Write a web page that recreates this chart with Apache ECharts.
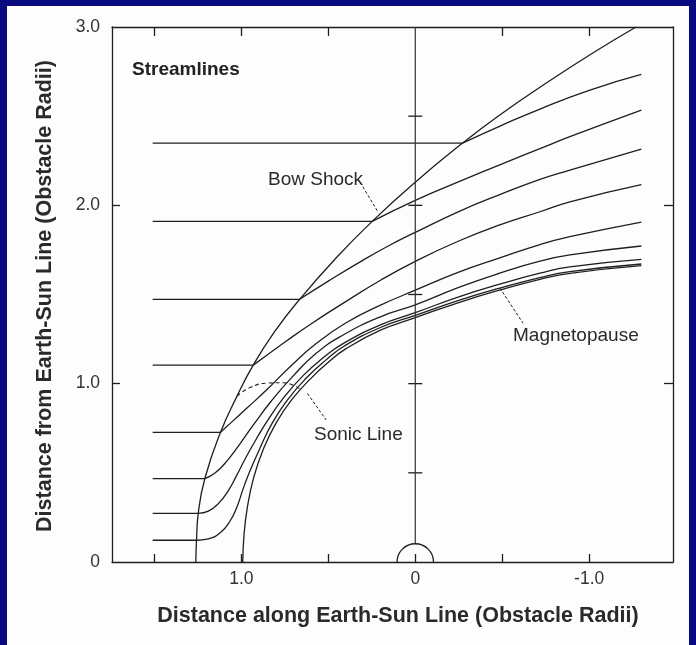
<!DOCTYPE html>
<html><head><meta charset="utf-8">
<script src="https://cdn.jsdelivr.net/npm/echarts@6/dist/echarts.min.js"></script>
<style>
html,body{margin:0;padding:0;background:#0a0a80;}
#wrap{position:relative;width:696px;height:645px;background:#0a0a80;overflow:hidden;}
#paper{position:absolute;left:7px;top:6px;width:682px;height:639px;background:#fdfdfd;}
#chart{position:absolute;left:0;top:0;width:696px;height:645px;}
</style></head><body>
<div id="wrap"><div id="paper"></div><div id="chart"></div></div>
<script>
// ---- axis ticks / labels ----
const xTickValues = [-1, -0.5, 0, 0.5, 1, 1.5];
const xTopTickValues = [-1, -0.5, 0.5, 1, 1.5];
const xLabelValues = [-1, 0, 1];
const yLabelValues = [0, 1, 2, 3];
const yTickValues = [1, 2];
const earthSunLineTicks = [0.5, 1, 1.5, 2, 2.5];

// ---- upstream (solar wind) streamlines ----
const upstreamStartX = 1.51;
const upstreamY = [2.349, 1.91, 1.473, 1.104, 0.727, 0.468, 0.273, 0.122];

// ---- downstream parts of streamlines (from the bow shock onward) ----
const streamline1 = [[-0.272,2.349],[-0.5,2.45],[-0.717,2.54],[-1.0,2.645],[-1.30,2.734]];
const streamline2 = [[0.248,1.91],[0,2.028],[-0.265,2.138],[-0.5,2.233],[-0.717,2.318],[-0.889,2.385],[-1.30,2.534]];
const streamline3 = [[0.665,1.473],[0.5,1.575],[0.3,1.693],[0.15,1.775],[0,1.848],[-0.25,1.965],[-0.486,2.06],[-0.717,2.146],[-0.889,2.198],[-1.30,2.315]];
const streamline4 = [[0.932,1.104],[0.85,1.162],[0.743,1.238],[0.6,1.335],[0.4,1.46],[0.2,1.58],[0,1.686],[-0.25,1.80],[-0.486,1.89],[-0.717,1.964],[-0.889,2.02],[-1.30,2.116]];
const streamline5 = [[1.12,0.727],[1.05,0.79],[0.96,0.87],[0.85,0.97],[0.72,1.095],[0.57,1.225],[0.4,1.34],[0.2,1.44],[0,1.524],[-0.25,1.625],[-0.486,1.705],[-0.717,1.78],[-0.889,1.824],[-1.30,1.906]];
const streamline6 = [[1.21,0.468],[1.15,0.50],[1.08,0.57],[1.01,0.66],[0.93,0.77],[0.83,0.90],[0.71,1.035],[0.57,1.17],[0.42,1.27],[0.2,1.375],[0,1.442],[-0.25,1.54],[-0.486,1.62],[-0.717,1.687],[-0.889,1.722],[-1.30,1.772]];
const streamline7 = [[1.248,0.273],[1.19,0.285],[1.13,0.33],[1.075,0.40],[1.03,0.48],[0.98,0.575],[0.92,0.68],[0.845,0.80],[0.75,0.93],[0.645,1.045],[0.53,1.145],[0.42,1.222],[0.2,1.33],[0,1.398],[-0.25,1.487],[-0.486,1.558],[-0.717,1.62],[-0.889,1.655],[-1.30,1.697]];
const streamline8 = [[1.258,0.122],[1.19,0.13],[1.12,0.165],[1.065,0.23],[1.025,0.31],[0.99,0.41],[0.955,0.50],[0.897,0.63],[0.822,0.78],[0.73,0.915],[0.628,1.03],[0.515,1.132],[0.41,1.21],[0.2,1.315],[0,1.383],[-0.25,1.467],[-0.486,1.536],[-0.717,1.595],[-0.889,1.628],[-1.30,1.671]];

// ---- boundaries ----
const bowShock = [[1.262,0],[1.258,0.122],[1.248,0.273],[1.21,0.468],[1.12,0.727],[1.025,0.93],[0.932,1.104],[0.81,1.29],[0.665,1.473],[0.46,1.70],[0.248,1.91],[0,2.13],[-0.272,2.349],[-0.476,2.5],[-0.76,2.69],[-1.03,2.86],[-1.27,3.0]];
const magnetopause = [[0.992,0],[0.985,0.15],[0.965,0.31],[0.93,0.47],[0.875,0.63],[0.80,0.78],[0.71,0.91],[0.61,1.02],[0.50,1.12],[0.40,1.195],[0.2,1.30],[0,1.37],[-0.25,1.455],[-0.486,1.525],[-0.717,1.585],[-0.889,1.619],[-1.30,1.662]];
const sonicLine = [[1.025,0.93],[0.95,0.978],[0.85,1.003],[0.76,1.005],[0.70,0.99],[0.655,0.965]];

// ---- decorations ----
const earthSunLine = [[0,0.105],[0,3]];
const obstacle = [[0,0,0.105]];
const bowShockPointer = [[0.302,2.104],[0.215,1.964]];
const sonicPointer = [[0.62,0.945],[0.513,0.797]];
const magnetopausePointer = [[-0.486,1.537],[-0.62,1.339]];

const ink = '#1e1e1e';
const font = '"Liberation Sans", Arial, Helvetica, sans-serif';
const downstream = [streamline1, streamline2, streamline3, streamline4, streamline5, streamline6, streamline7, streamline8];

const series = [];
function addLine(data, smooth, extra) {
  series.push(Object.assign({
    type: 'line', data: data, smooth: smooth, symbol: 'none', silent: true,
    lineStyle: { color: ink, width: 1.3 }, animation: false
  }, extra || {}));
}
upstreamY.forEach((y, i) => {
  addLine([[upstreamStartX, y], downstream[i][0]], false);
  addLine(downstream[i], true);
});
addLine(bowShock, true);
addLine(magnetopause, true);
addLine(sonicLine, true, { lineStyle: { color: ink, width: 1.1, type: [4, 3] } });
addLine(earthSunLine, false, { lineStyle: { color: '#333', width: 1.2 } });
addLine(bowShockPointer, false, { lineStyle: { color: ink, width: 1, type: [3, 2] } });
addLine(sonicPointer, false, { lineStyle: { color: ink, width: 1, type: [3, 2] } });
addLine(magnetopausePointer, false, { lineStyle: { color: ink, width: 1, type: [3, 2] } });

series.push({
  type: 'custom', data: obstacle, silent: true, animation: false,
  renderItem: function (params, api) {
    const c = api.coord([api.value(0), api.value(1)]);
    const r = Math.abs(api.size([api.value(2), 0])[0]);
    return { type: 'arc', shape: { cx: c[0], cy: c[1], r: r, startAngle: Math.PI, endAngle: 2 * Math.PI, clockwise: true },
      style: { stroke: ink, fill: null, lineWidth: 1.3 } };
  }
});
series.push({
  type: 'custom', data: earthSunLineTicks.map(v => [0, v]), silent: true, animation: false,
  renderItem: function (params, api) {
    const p = api.coord([api.value(0), api.value(1)]);
    return { type: 'line', shape: { x1: p[0] - 7, y1: p[1], x2: p[0] + 7, y2: p[1] },
      style: { stroke: ink, lineWidth: 1.3 } };
  }
});

const axisLineStyle = { color: ink, width: 1.3 };
const xFmt = v => (v === 0 ? '0' : v.toFixed(1));

const option = {
  backgroundColor: 'transparent',
  animation: false,
  grid: { left: 112, top: 27, width: 561, height: 535 },
  xAxis: [
    { type: 'value', position: 'bottom', inverse: true, min: -1.482, max: 1.744,
      axisLine: { show: true, onZero: false, lineStyle: axisLineStyle },
      axisTick: { show: true, inside: true, length: 8, customValues: xTickValues, lineStyle: axisLineStyle },
      axisLabel: { customValues: xLabelValues, formatter: xFmt, color: '#333', fontSize: 17.5, fontFamily: font, margin: 8 },
      splitLine: { show: false } },
    { type: 'value', position: 'top', inverse: true, min: -1.482, max: 1.744,
      axisLine: { show: true, onZero: false, lineStyle: axisLineStyle },
      axisTick: { show: true, inside: true, length: 9, customValues: xTopTickValues, lineStyle: axisLineStyle },
      axisLabel: { show: false }, splitLine: { show: false } }
  ],
  yAxis: [
    { type: 'value', position: 'left', min: 0, max: 3,
      axisLine: { show: true, onZero: false, lineStyle: axisLineStyle },
      axisTick: { show: true, inside: true, length: 8, customValues: yTickValues, lineStyle: axisLineStyle },
      axisLabel: { customValues: yLabelValues, formatter: xFmt, color: '#333', fontSize: 17.5, fontFamily: font, margin: 12 },
      splitLine: { show: false } },
    { type: 'value', position: 'right', min: 0, max: 3,
      axisLine: { show: true, onZero: false, lineStyle: axisLineStyle },
      axisTick: { show: true, inside: true, length: 9, customValues: yTickValues, lineStyle: axisLineStyle },
      axisLabel: { show: false }, splitLine: { show: false } }
  ],
  graphic: [
    { type: 'text', x: 132, y: 70, silent: true, style: { text: 'Streamlines', font: 'bold 19px ' + font, fill: '#222', verticalAlign: 'middle' } },
    { type: 'text', x: 268, y: 180, silent: true, style: { text: 'Bow Shock', font: '19px ' + font, fill: '#2a2a2a', verticalAlign: 'middle' } },
    { type: 'text', x: 314, y: 435, silent: true, style: { text: 'Sonic Line', font: '19px ' + font, fill: '#2a2a2a', verticalAlign: 'middle' } },
    { type: 'text', x: 513, y: 336, silent: true, style: { text: 'Magnetopause', font: '19px ' + font, fill: '#2a2a2a', verticalAlign: 'middle' } },
    { type: 'text', x: 398, y: 616, silent: true, style: { text: 'Distance along Earth-Sun Line (Obstacle Radii)', font: 'bold 21.5px ' + font, fill: '#2a2a2a', align: 'center', verticalAlign: 'middle' } },
    { type: 'text', x: 45, y: 296, rotation: Math.PI / 2, silent: true, style: { text: 'Distance from Earth-Sun Line (Obstacle Radii)', font: 'bold 21.5px ' + font, fill: '#2a2a2a', align: 'center', verticalAlign: 'middle' } }
  ],
  series: series
};
const chart = echarts.init(document.getElementById('chart'), null, { renderer: 'canvas' });
chart.setOption(option);
</script>
</body></html>
